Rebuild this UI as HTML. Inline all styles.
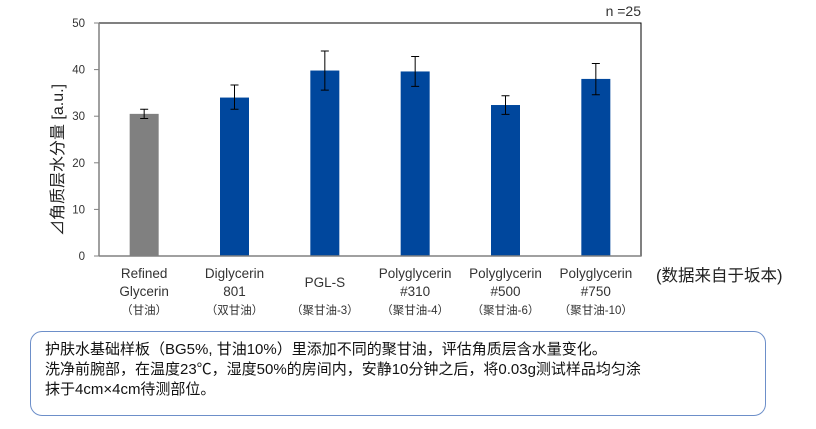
<!DOCTYPE html>
<html><head><meta charset="utf-8">
<style>
body{margin:0;background:#fff;width:816px;height:429px;overflow:hidden;position:relative;font-family:"Liberation Sans","Noto Sans CJK SC",sans-serif;}
.note{position:absolute;left:30px;top:331px;width:736px;height:85px;border:1px solid #6d8fc9;border-radius:12px;box-sizing:border-box;padding:8px 0 0 14px;font-size:15px;line-height:20px;color:#111;}
</style></head><body>
<svg width="816" height="330" style="position:absolute;left:0;top:0">
<g id="g"></g>
</svg>
<div class="note">护肤水基础样板（BG5%, 甘油10%）里添加不同的聚甘油，评估角质层含水量变化。<br>洗净前腕部，在温度23℃，湿度50%的房间内，安静10分钟之后，将0.03g测试样品均匀涂<br>抹于4cm×4cm待测部位。</div>
<script>
const categories=[["Refined","Glycerin","（甘油）"],["Diglycerin","801","（双甘油）"],["","PGL-S","（聚甘油-3）"],["Polyglycerin","#310","（聚甘油-4）"],["Polyglycerin","#500","（聚甘油-6）"],["Polyglycerin","#750","（聚甘油-10）"]];
const values=[30.5,34.0,39.8,39.6,32.4,38.0];
const errLow=[29.5,31.5,35.6,36.4,30.4,34.6];
const errHigh=[31.5,36.7,44.0,42.8,34.4,41.3];
const yTicks=[0,10,20,30,40,50];
const colors=["#808080","#00479d","#00479d","#00479d","#00479d","#00479d"];
const NS="http://www.w3.org/2000/svg";
const g=document.getElementById('g');
const X0=99,X1=641,Y0=256,Y1=23;
const y=v=>Y0-(v/50)*(Y0-Y1);
const bw=(X1-X0)/categories.length;
const xc=i=>X0+bw*(i+0.5);
function mk(t,a,p){const e=document.createElementNS(NS,t);for(const k in a)e.setAttribute(k,a[k]);(p||g).appendChild(e);return e;}
let e=mk('rect',{x:X0,y:Y1,width:X1-X0,height:Y0-Y1,fill:'none',stroke:'#000','stroke-width':1});

yTicks.forEach(t=>{
 let l=mk('line',{x1:X0-5,x2:X0,y1:y(t),y2:y(t),stroke:'#808080'});
 
 let tx=mk('text',{x:X0-14,y:y(t)+4,'text-anchor':'end','font-size':11.5,fill:'#333'});tx.textContent=t;
 
});
values.forEach((v,i)=>{
 let r=mk('rect',{x:xc(i)-14.5,y:y(v),width:29,height:Y0-y(v),fill:colors[i]});
 
 let eb=mk('path',{d:`M${xc(i)},${y(errLow[i])}V${y(errHigh[i])}M${xc(i)-4},${y(errLow[i])}h8M${xc(i)-4},${y(errHigh[i])}h8`,stroke:'#000',fill:'none','stroke-width':1});
 
 const c=categories[i];
 [[c[0],278,13.5],[c[1],c[0]?296:287,13.5],[c[2],314,11.5]].forEach(([s,yy,fs])=>{
  if(!s)return;let t=mk('text',{x:xc(i),y:yy,'text-anchor':'middle','font-size':fs,fill:'#333'});t.textContent=s;
  
 });
});
let ax=mk('line',{x1:X0,x2:X0,y1:Y1,y2:Y0,stroke:'#808080','stroke-width':1.5});

let bx=mk('line',{x1:X0,x2:X1,y1:Y0,y2:Y0,stroke:'#808080','stroke-width':1.5});

let yt=mk('text',{x:0,y:0,transform:'translate(63,160) rotate(-90)','text-anchor':'middle','font-size':16,fill:'#222'});yt.textContent='⊿角质层水分量 [a.u.]';

let n=mk('text',{x:641,y:16,'text-anchor':'end','font-size':14,fill:'#333'});n.textContent='n =25';

let src=mk('text',{x:656,y:281,'font-size':16.5,fill:'#222'});src.textContent='(数据来自于坂本)';

</script>
</body></html>
